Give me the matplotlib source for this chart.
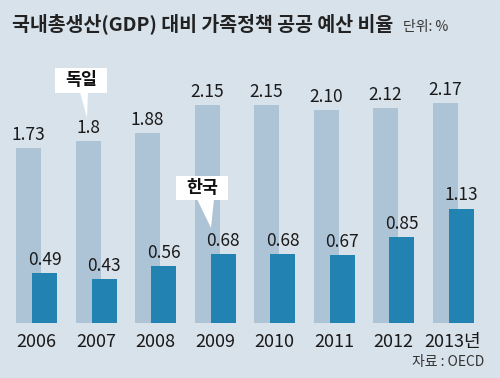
import matplotlib
matplotlib.use("Agg")
import matplotlib.pyplot as plt
from matplotlib.patches import Polygon, Rectangle

plt.rcParams['font.family'] = ['Noto Sans CJK KR', 'DejaVu Sans']

years = ['2006', '2007', '2008', '2009', '2010', '2011', '2012', '2013년']
germany = [1.73, 1.8, 1.88, 2.15, 2.15, 2.10, 2.12, 2.17]
korea = [0.49, 0.43, 0.56, 0.68, 0.68, 0.67, 0.85, 1.13]
germany_labels = ['1.73', '1.8', '1.88', '2.15', '2.15', '2.10', '2.12', '2.17']
korea_labels = ['0.49', '0.43', '0.56', '0.68', '0.68', '0.67', '0.85', '1.13']

BG = '#d8e2eb'
LIGHT = '#adc3d6'
DARK = '#2283b2'

W, H = 500, 378
fig = plt.figure(figsize=(W / 100, H / 100), dpi=100, facecolor=BG)

# axes in pixel layout: x 0..500, baseline at y=323, top at y=60
base_px, top_px = 323, 60
ax = fig.add_axes([0, (H - base_px) / H, 1, (base_px - top_px) / H])
ax.set_facecolor(BG)
ax.patch.set_alpha(0)
px_per_unit = 101.3
ax.set_ylim(0, (base_px - top_px) / px_per_unit)
ax.set_xlim(0, 500)
ax.axis('off')

step = 59.5
x0 = 28.5
bw = 25
off = 16
xs_l = [x0 + i * step for i in range(len(years))]
xs_d = [x + off for x in xs_l]

ax.bar(xs_l, germany, width=bw, color=LIGHT, zorder=1)
ax.bar(xs_d, korea, width=bw, color=DARK, zorder=2)

for x, v, s in zip(xs_l, germany, germany_labels):
    ax.text(x, v + 0.04, s, ha='center', va='bottom', fontsize=12.5,
            color='#1a1a1a', zorder=3)
for x, v, s in zip(xs_d, korea, korea_labels):
    ax.text(x, v + 0.04, s, ha='center', va='bottom', fontsize=12.5,
            color='#1a1a1a', zorder=3)

for x, s in zip(xs_l, years):
    ax.text(x + off / 2, -0.1, s, ha='center', va='top', fontsize=13,
            color='#1a1a1a')

# pixel helper for figure-level decorations
def P(x, y):
    return (x / W, 1 - y / H)

tf = fig.transFigure

fig.text(*P(12, 24), '국내총생산(GDP) 대비 가족정책 공공 예산 비율', fontsize=14,
         fontweight='bold', color='#222222', va='center', ha='left')
fig.text(*P(403, 27), '단위: %', fontsize=10, color='#333333', va='center', ha='left')
fig.text(*P(484, 362), '자료 : OECD', fontsize=10, color='#333333', va='center', ha='right')

# callout: 독일
fig.patches.append(Rectangle(P(55, 93), 52 / W, 25 / H, transform=tf,
                             facecolor='white', edgecolor='none', zorder=5))
fig.patches.append(Polygon([P(80, 92), P(88, 92), P(87, 118)], closed=True,
                           transform=tf, facecolor='white', edgecolor='none', zorder=5))
fig.text(*P(81, 80), '독일', fontsize=12.5, fontweight='bold', color='#111111',
         ha='center', va='center', zorder=6)

# callout: 한국
fig.patches.append(Rectangle(P(176, 200), 52 / W, 24 / H, transform=tf,
                             facecolor='white', edgecolor='none', zorder=5))
fig.patches.append(Polygon([P(197, 199), P(214, 199), P(211, 228)], closed=True,
                           transform=tf, facecolor='white', edgecolor='none', zorder=5))
fig.text(*P(202, 188), '한국', fontsize=12.5, fontweight='bold', color='#111111',
         ha='center', va='center', zorder=6)

fig.savefig('out.png', dpi=100, facecolor=BG)
